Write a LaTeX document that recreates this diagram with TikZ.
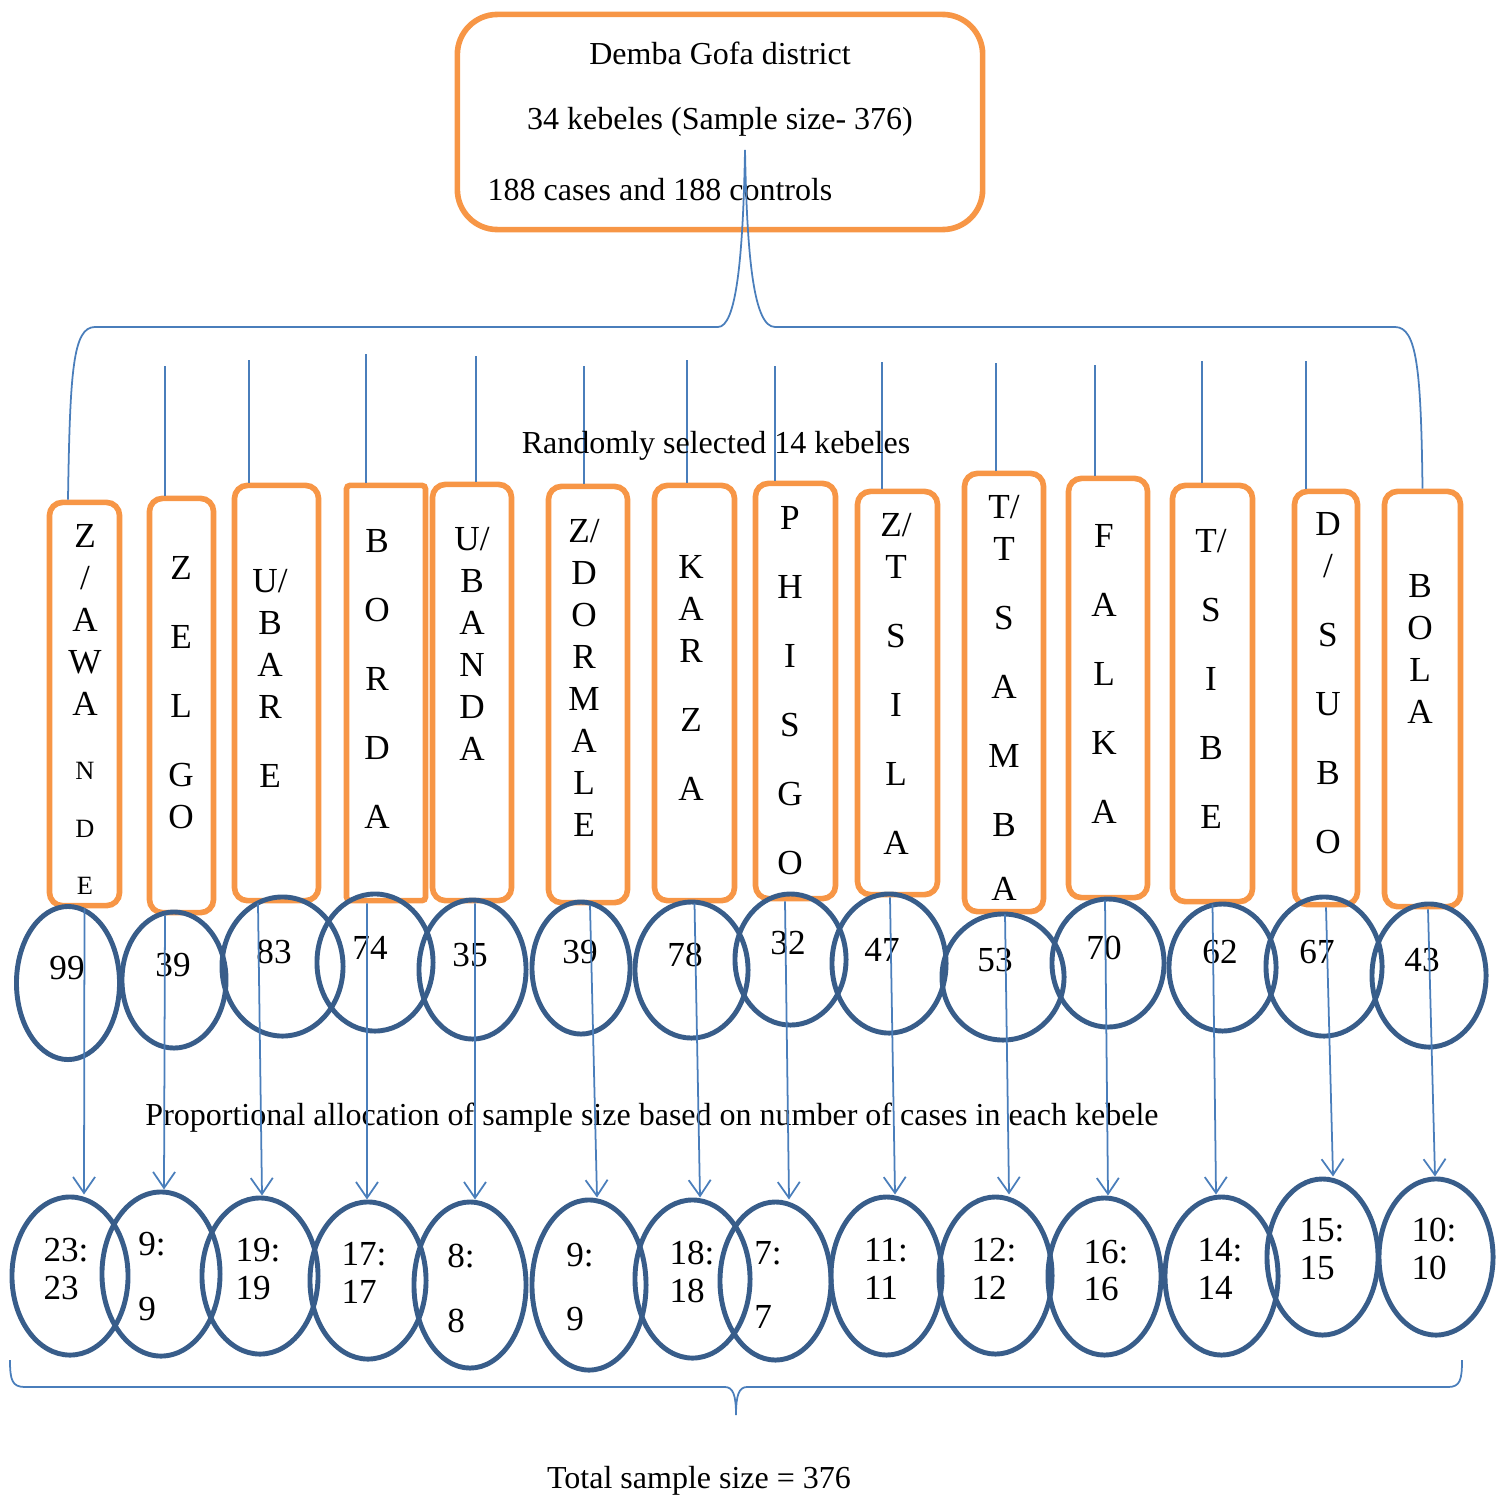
\documentclass[tikz,border=0pt]{standalone}
\usepackage{fontspec}
\setmainfont{Liberation Serif}
\usetikzlibrary{arrows.meta,shapes.geometric}
\definecolor{boxorange}{RGB}{247,150,70}
\definecolor{ringblue}{RGB}{56,93,138}
\definecolor{lineblue}{RGB}{74,126,187}

\begin{document}
\begin{tikzpicture}[x=0.01cm,y=-0.01cm,>={Straight Barb[length=0.16cm,width=0.22cm]},
  dist/.style={draw=boxorange,line width=1.6pt,rounded corners=0.4cm,
               minimum width=5.25cm,minimum height=2.15cm},
  kbox/.style={draw=boxorange,line width=1.6pt,rounded corners=0.13cm,inner sep=0pt},
  kname/.style={align=center,inner sep=0pt,anchor=north,font=\fontsize{10}{11.95}\selectfont},
  cnt/.style={ellipse,draw=ringblue,line width=1.4pt,inner sep=0pt},
  num/.style={inner sep=0pt,font=\fontsize{10}{12}\selectfont},
  share/.style={inner sep=0pt,align=left,font=\fontsize{10}{10.8}\selectfont},
  txt/.style={inner sep=0pt,font=\fontsize{9.1}{11}\selectfont},
  link/.style={draw=lineblue,line width=0.5pt},
  arr/.style={link,->}]
  \useasboundingbox (0,0) rectangle (1498,1497);

  % district
  \node[dist] (dist) at (720,122) {};
  \node[txt] (d1) at (720,53) {Demba Gofa district};
  \node[txt] (d2) at (720,122) {34 kebeles (Sample size- 376)};
  \node[txt] (d3) at (660,190) {188 cases and 188 controls};
  \coordinate (tip) at (745,150);

  % kebeles
  \node[kbox,minimum width=0.70cm,minimum height=4.03cm] (k1) at (84.5,704) {};
  \node[kbox,minimum width=0.64cm,minimum height=4.14cm] (k2) at (181.5,705.5) {};
  \node[kbox,minimum width=0.84cm,minimum height=4.15cm] (k3) at (276.5,693) {};
  \node[kbox,rounded corners=1pt,minimum width=0.79cm,minimum height=4.15cm] (k4) at (386,693) {};
  \node[kbox,minimum width=0.79cm,minimum height=4.16cm] (k5) at (472,692.5) {};
  \node[kbox,minimum width=0.79cm,minimum height=4.16cm] (k6) at (588,694.5) {};
  \node[kbox,minimum width=0.80cm,minimum height=4.15cm] (k7) at (694.5,693) {};
  \node[kbox,minimum width=0.80cm,minimum height=4.15cm] (k8) at (795.5,691) {};
  \node[kbox,minimum width=0.80cm,minimum height=4.03cm] (k9) at (897.5,693) {};
  \node[kbox,minimum width=0.79cm,minimum height=4.38cm] (k10) at (1004,692.5) {};
  \node[kbox,minimum width=0.79cm,minimum height=4.19cm] (k11) at (1108,688) {};
  \node[kbox,minimum width=0.80cm,minimum height=4.16cm] (k12) at (1212.5,693.5) {};
  \node[kbox,minimum width=0.63cm,minimum height=4.13cm] (k13) at (1326,698) {};
  \node[kbox,minimum width=0.76cm,minimum height=4.15cm] (k14) at (1422.5,699) {};

  \node[kname] (l1) at (85,523.5) {Z\\/\\A\\W\\A\\[0.22cm]{\fontsize{7.5}{9}\selectfont N}\\[0.16cm]{\fontsize{7.5}{9}\selectfont D}\\[0.15cm]{\fontsize{7.5}{9}\selectfont E}};
  \node[kname] (l2) at (181,555.5) {Z\\[0.27cm]E\\[0.27cm]L\\[0.27cm]G\\O};
  \node[kname] (l3) at (270,568.5) {U/\\B\\A\\R\\[0.27cm]E};
  \node[kname] (l4) at (377,528.5) {B\\[0.27cm]O\\[0.27cm]R\\[0.27cm]D\\[0.27cm]A};
  \node[kname] (l5) at (472,526.5) {U/\\B\\A\\N\\D\\A};
  \node[kname] (l6) at (584,518.5) {Z/\\D\\O\\R\\M\\A\\L\\E};
  \node[kname] (l7) at (691,554.5) {K\\A\\R\\[0.27cm]Z\\[0.27cm]A};
  \node[kname] (l8) at (790,505.5) {P\\[0.27cm]H\\[0.27cm]I\\[0.27cm]S\\[0.27cm]G\\[0.27cm]O};
  \node[kname] (l9) at (896,512.5) {Z/\\T\\[0.27cm]S\\[0.27cm]I\\[0.27cm]L\\[0.27cm]A};
  \node[kname] (l10) at (1004,494.5) {T/\\T\\[0.27cm]S\\[0.27cm]A\\[0.27cm]M\\[0.27cm]B\\[0.22cm]A};
  \node[kname] (l11) at (1104,523.5) {F\\[0.27cm]A\\[0.27cm]L\\[0.27cm]K\\[0.27cm]A};
  \node[kname] (l12) at (1211,528.5) {T/\\[0.27cm]S\\[0.27cm]I\\[0.27cm]B\\[0.27cm]E};
  \node[kname] (l13) at (1328,511.5) {D\\/\\[0.27cm]S\\[0.27cm]U\\[0.27cm]B\\[0.27cm]O};
  \node[kname] (l14) at (1420,573.5) {B\\O\\L\\A};

  % brace to kebeles
  \draw[link] ([xshift=-0.165cm]k1.north) .. controls (70,370) and (73,327) .. (95,327)
    -- (718,327) .. controls (736,327) and (743,260) .. (tip)
    .. controls (747,260) and (754,327) .. (775,327) -- (1395,327)
    .. controls (1417,327) and (1421,370) .. (k14.north);
  \coordinate (t2) at (165,366);
  \coordinate (t3) at (249,360);
  \coordinate (t4) at (366,354);
  \coordinate (t5) at (476,356);
  \coordinate (t6) at (584,366);
  \coordinate (t7) at (687,360);
  \coordinate (t8) at (775,366);
  \coordinate (t9) at (882,362);
  \coordinate (t10) at (996,363);
  \coordinate (t11) at (1095,365);
  \coordinate (t12) at (1202,361);
  \coordinate (t13) at (1306,361);
  \draw[link] (t2) -- (t2 |- k2.north);
  \draw[link] (t3) -- (t3 |- k3.north);
  \draw[link] (t4) -- (t4 |- k4.north);
  \draw[link] (t5) -- (t5 |- k5.north);
  \draw[link] (t6) -- (t6 |- k6.north);
  \draw[link] (t7) -- (t7 |- k7.north);
  \draw[link] (t8) -- (t8 |- k8.north);
  \draw[link] (t9) -- (t9 |- k9.north);
  \draw[link] (t10) -- (t10 |- k10.north);
  \draw[link] (t11) -- (t11 |- k11.north);
  \draw[link] (t12) -- (t12 |- k12.north);
  \draw[link] (t13) -- (t13 |- k13.north);
  \node[txt] (rand) at (716,446) {Randomly selected 14 kebeles};

  % cases per kebele
  \node[cnt,minimum width=1.03cm,minimum height=1.53cm] (e1) at (68,983) {};
  \node[cnt,minimum width=1.04cm,minimum height=1.36cm] (e2) at (174,980) {};
  \node[cnt,minimum width=1.21cm,minimum height=1.39cm] (e3) at (282.5,966.5) {};
  \node[cnt,minimum width=1.16cm,minimum height=1.37cm] (e4) at (375,962.5) {};
  \node[cnt,minimum width=1.07cm,minimum height=1.39cm] (e5) at (472.5,969.5) {};
  \node[cnt,minimum width=0.98cm,minimum height=1.32cm] (e6) at (581,968) {};
  \node[cnt,minimum width=1.13cm,minimum height=1.36cm] (e7) at (691.5,970) {};
  \node[cnt,minimum width=1.11cm,minimum height=1.31cm] (e8) at (790.5,959.5) {};
  \node[cnt,minimum width=1.14cm,minimum height=1.39cm] (e9) at (889,963.5) {};
  \node[cnt,minimum width=1.22cm,minimum height=1.26cm] (e10) at (1003,977) {};
  \node[cnt,minimum width=1.12cm,minimum height=1.28cm] (e11) at (1108,963) {};
  \node[cnt,minimum width=1.07cm,minimum height=1.27cm] (e12) at (1222.5,967.5) {};
  \node[cnt,minimum width=1.16cm,minimum height=1.39cm] (e13) at (1324,966.5) {};
  \node[cnt,minimum width=1.14cm,minimum height=1.43cm] (e14) at (1429,975.5) {};
  \node[num] (n1) at (67,968) {99};
  \node[num] (n2) at (173,965) {39};
  \node[num] (n3) at (274,952) {83};
  \node[num] (n4) at (370,948) {74};
  \node[num] (n5) at (470,955) {35};
  \node[num] (n6) at (580,952) {39};
  \node[num] (n7) at (685,955) {78};
  \node[num] (n8) at (788,943) {32};
  \node[num] (n9) at (882,950) {47};
  \node[num] (n10) at (995,960) {53};
  \node[num] (n11) at (1104,948) {70};
  \node[num] (n12) at (1220,952) {62};
  \node[num] (n13) at (1317,952) {67};
  \node[num] (n14) at (1422,960) {43};

  \node[txt] (prop) at (652,1118) {Proportional allocation of sample size based on number of cases in each kebele};

  % allocated sample
  \node[cnt,minimum width=1.16cm,minimum height=1.58cm] (b1) at (70,1276) {};
  \node[cnt,minimum width=1.18cm,minimum height=1.64cm] (b2) at (161,1274) {};
  \node[cnt,minimum width=1.16cm,minimum height=1.56cm] (b3) at (260,1276) {};
  \node[cnt,minimum width=1.16cm,minimum height=1.57cm] (b4) at (368,1280.5) {};
  \node[cnt,minimum width=1.12cm,minimum height=1.66cm] (b5) at (470,1285) {};
  \node[cnt,minimum width=1.14cm,minimum height=1.70cm] (b6) at (589,1285) {};
  \node[cnt,minimum width=1.15cm,minimum height=1.58cm] (b7) at (692.5,1279) {};
  \node[cnt,minimum width=1.11cm,minimum height=1.58cm] (b8) at (775.5,1281) {};
  \node[cnt,minimum width=1.11cm,minimum height=1.58cm] (b9) at (886.5,1276) {};
  \node[cnt,minimum width=1.13cm,minimum height=1.57cm] (b10) at (995.5,1275.5) {};
  \node[cnt,minimum width=1.13cm,minimum height=1.57cm] (b11) at (1104.5,1276.5) {};
  \node[cnt,minimum width=1.13cm,minimum height=1.58cm] (b12) at (1221.5,1276) {};
  \node[cnt,minimum width=1.11cm,minimum height=1.56cm] (b13) at (1322.5,1257) {};
  \node[cnt,minimum width=1.14cm,minimum height=1.56cm] (b14) at (1436,1257) {};
  \node[share] (s1) at (66,1269) {23:\\23};
  \node[share] (s2) at (152,1276.5) {9:\\[0.27cm]9};
  \node[share] (s3) at (258,1269) {19:\\19};
  \node[share] (s4) at (364,1273) {17:\\17};
  \node[share] (s5) at (461,1288.5) {8:\\[0.27cm]8};
  \node[share] (s6) at (580,1287) {9:\\[0.27cm]9};
  \node[share] (s7) at (692,1272) {18:\\18};
  \node[share] (s8) at (768,1285) {7:\\[0.26cm]7};
  \node[share] (s9) at (886,1269) {11:\\11};
  \node[share] (s10) at (994,1268.5) {12:\\12};
  \node[share] (s11) at (1106,1270.5) {16:\\16};
  \node[share] (s12) at (1220,1269) {14:\\14};
  \node[share] (s13) at (1322,1249) {15:\\15};
  \node[share] (s14) at (1434,1249) {10:\\10};

  \draw[arr] (k1.south) -- ([xshift=0.14cm]b1.north);
  \draw[arr] ([xshift=-0.165cm]k2.south) -- ([xshift=0.03cm]b2.north);
  \draw[arr] ([xshift=-0.185cm]k3.south) -- ([xshift=0.02cm]b3.north);
  \draw[arr] ([xshift=-0.19cm]k4.south) -- ([xshift=-0.01cm]b4.north);
  \draw[arr] ([xshift=0.03cm]k5.south) -- ([xshift=0.05cm]b5.north);
  \draw[arr] ([xshift=0.02cm]k6.south) -- ([xshift=0.08cm]b6.north);
  \draw[arr] (k7.south) -- ([xshift=0.075cm]b7.north);
  \draw[arr] ([xshift=-0.105cm]k8.south) -- ([xshift=0.135cm]b8.north);
  \draw[arr] ([xshift=-0.075cm]k9.south) -- ([xshift=0.085cm]b9.north);
  \draw[arr] ([xshift=0.01cm]k10.south) -- ([xshift=0.135cm]b10.north);
  \draw[arr] ([xshift=-0.03cm]k11.south) -- ([xshift=0.035cm]b11.north);
  \draw[arr] (k12.south) -- ([xshift=-0.055cm]b12.north);
  \draw[arr] (k13.south) -- ([xshift=0.105cm]b13.north);
  \draw[arr] ([xshift=0.055cm]k14.south) -- ([xshift=-0.01cm]b14.north);

  % total
  \draw[link] (10,1360) .. controls (10,1380) and (12,1387) .. (25,1387) -- (725,1387)
    .. controls (733,1387) and (736,1395) .. (736,1415)
    .. controls (736,1395) and (739,1387) .. (747,1387) -- (1448,1387)
    .. controls (1460,1387) and (1462,1380) .. (1462,1360);
  \node[txt] (total) at (699,1481) {Total sample size = 376};
\end{tikzpicture}
\end{document}
